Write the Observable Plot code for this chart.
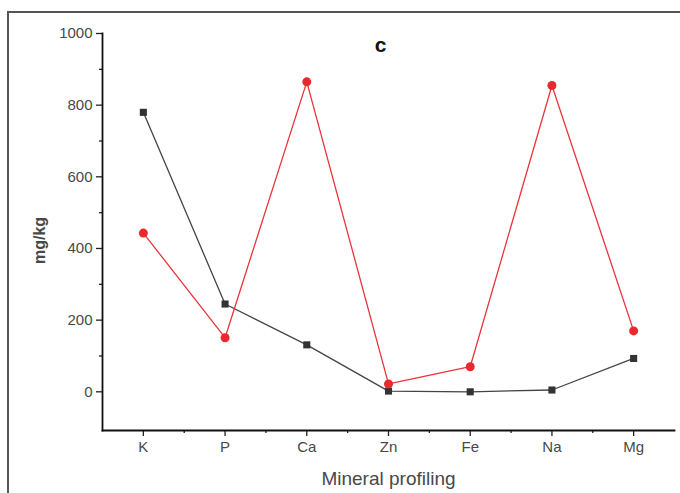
<!DOCTYPE html>
<html>
<head>
<meta charset="utf-8">
<script src="https://cdn.jsdelivr.net/npm/d3@7"></script>
<script src="https://cdn.jsdelivr.net/npm/@observablehq/plot@0.6"></script>
<style>
  html, body { margin: 0; padding: 0; background: #fff; overflow: hidden; }
  #frame { position: absolute; left: 7px; top: 11px; width: 700px; height: 520px; border: 2px solid #555; box-sizing: border-box; }
  #chart { position: absolute; left: 0; top: 0; }
</style>
</head>
<body>
<div id="frame"></div>
<div id="chart"></div>
<script>
const minerals = ["K", "P", "Ca", "Zn", "Fe", "Na", "Mg"];
const seriesBlack = [780, 245, 131, 2, 0, 5, 93];
const seriesRed = [443, 151, 865, 22, 70, 855, 170];
const yTicks = [0, 200, 400, 600, 800, 1000];
const yMinorTicks = [100, 300, 500, 700, 900];
const xMinorTicks = [0.5, 1.5, 2.5, 3.5, 4.5, 5.5];

const black = minerals.map((m, i) => ({i, m, v: seriesBlack[i]}));
const red = minerals.map((m, i) => ({i, m, v: seriesRed[i]}));

const font = "Liberation Sans, Arial, sans-serif";
const plot = Plot.plot({
  width: 680,
  height: 493,
  marginLeft: 102,
  marginRight: 6,
  marginTop: 33,
  marginBottom: 63,
  style: {fontFamily: font, fontSize: "14px", color: "#444", background: "transparent"},
  x: {type: "linear", domain: [-0.5, 6.5]},
  y: {domain: [-108, 1000]},
  marks: [
    Plot.axisY(yTicks, {tickSize: 6, tickPadding: 4, tickFormat: d => String(d), label: null, stroke: "#222", strokeWidth: 1.3, fill: "#484848", fontSize: 15}),
    Plot.axisY(yMinorTicks, {tickSize: 3, tickFormat: () => "", label: null, stroke: "#222", strokeWidth: 1.3}),
    Plot.axisX(d3.range(minerals.length), {tickSize: 6, tickPadding: 5, tickFormat: i => minerals[i], label: null, stroke: "#222", strokeWidth: 1.3, fill: "#484848", fontSize: 15}),
    Plot.axisX(xMinorTicks, {tickSize: 3, tickFormat: () => "", label: null, stroke: "#222", strokeWidth: 1.3}),
    Plot.frame({anchor: "left", stroke: "#111", strokeWidth: 1.8}),
    Plot.frame({anchor: "bottom", stroke: "#111", strokeWidth: 1.8}),
    Plot.line(black, {x: "i", y: "v", stroke: "#444", strokeWidth: 1.3}),
    Plot.line(red, {x: "i", y: "v", stroke: "#e8353a", strokeWidth: 1.3}),
    Plot.dot(black, {x: "i", y: "v", symbol: "square", r: 4, fill: "#333", stroke: "none"}),
    Plot.dot(red, {x: "i", y: "v", symbol: "circle", r: 4.5, fill: "#e82a2e", stroke: "none"}),
    Plot.text(["c"], {frameAnchor: "top", dx: -8, dy: 4, fontSize: 21, fontWeight: "bold", fill: "#111"}),
    Plot.text(["Mineral profiling"], {frameAnchor: "bottom", dy: 54, fontSize: 19, fill: "#484848"}),
    Plot.text(["mg/kg"], {frameAnchor: "left", dx: -63, dy: 32, rotate: -90, fontSize: 16, fontWeight: "bold", fill: "#484848"})
  ]
});
document.getElementById("chart").appendChild(plot);
</script>
</body>
</html>
